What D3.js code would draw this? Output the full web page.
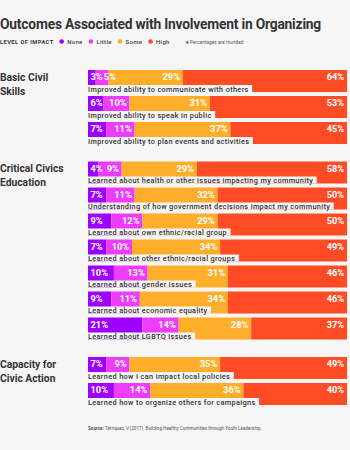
<!DOCTYPE html>
<html>
<head>
<meta charset="utf-8">
<script src="https://cdn.jsdelivr.net/npm/d3@7"></script>
<style>
  body { margin: 0; background: #f6f6f6; }
  text { font-family: Roboto, sans-serif; }
</style>
</head>
<body>
<script>
// data
var groups = ["Basic Civil|Skills", "Critical Civics|Education", "Capacity for|Civic Action"];
var items = [
  "Improved ability to communicate with others",
  "Improved ability to speak in public",
  "Improved ability to plan events and activities",
  "Learned about health or other issues impacting my community",
  "Understanding of how government decisions impact my community",
  "Learned about own ethnic/racial group",
  "Learned about other ethnic/racial groups",
  "Learned about gender issues",
  "Learned about economic equality",
  "Learned about LGBTQ issues",
  "Learned how I can impact local policies",
  "Learned how to organize others for campaigns"
];
var itemGroup = [0, 0, 0, 1, 1, 1, 1, 1, 1, 1, 2, 2];
var levels = ["None", "Little", "Some", "High"];
var none   = [3, 6, 7, 4, 7, 9, 7, 10, 9, 21, 7, 10];
var little = [5, 10, 11, 9, 11, 12, 10, 13, 11, 14, 9, 14];
var some   = [29, 31, 37, 29, 32, 29, 34, 31, 34, 28, 35, 36];
var high   = [64, 53, 45, 58, 50, 50, 49, 46, 46, 37, 49, 40];
var colors = ["#9e00ff", "#ee3cff", "#ffae2a", "#ff4c24"];

var width = 350, height = 450, bg = "#f6f6f6";
var barLeft = 88, barRight = 347;
var rowStep = 26, barH = 22, groupGap = 13.5, firstTop = 70;

var rows = items.map(function (name, i) {
  return { name: name, group: itemGroup[i], None: none[i], Little: little[i], Some: some[i], High: high[i] };
});

// row tops: rows step down, with an extra gap where the group changes
var tops = [];
var yCur = firstTop;
rows.forEach(function (r, i) {
  if (i > 0) yCur += rowStep + (r.group !== rows[i - 1].group ? groupGap : 0);
  tops.push(yCur);
});

var series = d3.stack().keys(levels).offset(d3.stackOffsetExpand)(rows);
var x = d3.scaleLinear().domain([0, 1]).range([barLeft, barRight]);
var color = d3.scaleOrdinal().domain(levels).range(colors);

var svg = d3.select("body").append("svg")
    .attr("width", width)
    .attr("height", height);

svg.append("rect").attr("width", width).attr("height", height).attr("fill", bg);

// title
svg.append("text")
    .attr("x", 0).attr("y", 29)
    .attr("font-size", 13.8).attr("font-weight", 700)
    .attr("letter-spacing", -0.2)
    .attr("fill", "#333")
    .text("Outcomes Associated with Involvement in Organizing");

// legend
var legend = svg.append("g").attr("transform", "translate(0,43.5)");
legend.append("text")
    .attr("font-size", 5.6).attr("font-weight", 700)
    .attr("letter-spacing", 0.5)
    .attr("fill", "#333")
    .text("LEVEL OF IMPACT");
var lx = 59.4;
levels.forEach(function (k) {
  legend.append("circle").attr("cx", lx + 2.3).attr("cy", -2).attr("r", 2.3).attr("fill", color(k));
  var t = legend.append("text").attr("x", lx + 7.8)
      .attr("font-size", 6).attr("font-weight", 500)
      .attr("letter-spacing", 0.3)
      .attr("fill", "#444").text(k);
  lx += 7.8 + t.node().getComputedTextLength() + 6;
});
legend.append("text").attr("x", lx + 9)
    .attr("font-size", 4.6).attr("fill", "#555")
    .attr("letter-spacing", 0.1)
    .text("\u2605  Percentages are rounded");

// group labels
groups.forEach(function (g, gi) {
  var first = itemGroup.indexOf(gi);
  var t = svg.append("text")
      .attr("x", 0).attr("y", tops[first] + 10.5)
      .attr("font-size", 10.3).attr("font-weight", 700)
      .attr("fill", "#333");
  g.split("|").forEach(function (line, li) {
    t.append("tspan").attr("x", 0).attr("dy", li ? 14.3 : 0).text(line);
  });
});

// bars
var rowG = svg.selectAll("g.row")
    .data(rows)
    .join("g")
    .attr("class", "row")
    .attr("transform", function (d, i) { return "translate(0," + tops[i] + ")"; });

rowG.each(function (d, i) {
  var g = d3.select(this);
  series.forEach(function (s) {
    g.append("rect")
        .attr("x", x(s[i][0]))
        .attr("width", x(s[i][1]) - x(s[i][0]))
        .attr("height", barH)
        .attr("fill", color(s.key));
  });

  // value labels: first left-aligned, rest right-aligned and pushed past the previous one
  var prevRight = -Infinity;
  series.forEach(function (s, si) {
    var t = g.append("text")
        .attr("y", 10.4)
        .attr("font-size", 9.3).attr("font-weight", 700)
        .attr("fill", "#fff")
        .text(d[s.key] + "%");
    var w = t.node().getComputedTextLength();
    var left = si === 0 ? x(s[i][0]) + 2.5 : x(s[i][1]) - 2.8 - w;
    if (left < prevRight + 1) left = prevRight + 1;
    t.attr("x", left);
    prevRight = left + w;
  });

  // item label on a background tab
  var box = g.append("rect").attr("x", barLeft).attr("y", 15).attr("height", barH - 15).attr("fill", bg);
  var lab = g.append("text")
      .attr("x", barLeft).attr("y", 21.5)
      .attr("font-size", 7.3).attr("font-weight", 500)
      .attr("letter-spacing", 0.36)
      .attr("fill", "#333")
      .text(d.name);
  box.attr("width", lab.node().getComputedTextLength() + 3.5);
});

// source
var src = svg.append("text").attr("x", barLeft).attr("y", 430)
    .attr("font-size", 4.6).attr("fill", "#555");
src.append("tspan").attr("font-weight", 700).text("Source: ");
src.append("tspan").text("Terriquez, V.(2017). Building Healthy Communities through Youth Leadership.");
</script>
</body>
</html>
